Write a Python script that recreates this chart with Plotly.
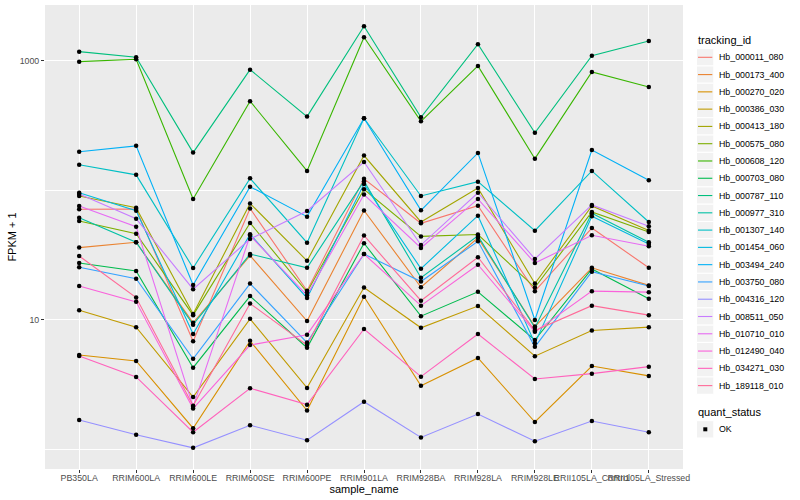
import plotly.graph_objects as go

samples = ["PB350LA", "RRIM600LA", "RRIM600LE", "RRIM600SE", "RRIM600PE", "RRIM901LA",
           "RRIM928BA", "RRIM928LA", "RRIM928LE", "RRII105LA_Control", "RRII105LA_Stressed"]

tracking_ids = ["Hb_000011_080", "Hb_000173_400", "Hb_000270_020", "Hb_000386_030", "Hb_000413_180",
                "Hb_000575_080", "Hb_000608_120", "Hb_000703_080", "Hb_000787_110", "Hb_000977_310",
                "Hb_001307_140", "Hb_001454_060", "Hb_003494_240", "Hb_003750_080", "Hb_004316_120",
                "Hb_008511_050", "Hb_010710_010", "Hb_012490_040", "Hb_034271_030", "Hb_189118_010"]

colors = ["#F8766D", "#EA8331", "#D89000", "#C09B00", "#A3A500", "#7CAE00", "#39B600", "#00BB4E",
          "#00BF7D", "#00C1A3", "#00BFC4", "#00BAE0", "#00B0F6", "#35A2FF", "#9590FF", "#C77CFF",
          "#E76BF3", "#FA62DB", "#FF62BC", "#FF6A98"]

# FPKM + 1 per sample (order of `samples`)
hb_000011_080 = [71.6, 71.9, 6.85, 72.6, 16.8, 123, 55.8, 76.3, 16.7, 51.3, 25.3]
hb_000173_400 = [36.2, 39.8, 9.5, 31.4, 9.8, 70.1, 17.9, 43.0, 8.9, 25.3, 18.5]
hb_000270_020 = [5.37, 4.83, 1.46, 6.9, 2.0, 15.1, 3.11, 5.09, 1.63, 4.41, 3.70]
hb_000386_030 = [11.9, 8.8, 2.54, 10.2, 2.99, 17.8, 8.7, 12.8, 5.25, 8.3, 8.8]
hb_000413_180 = [90.7, 73.6, 11.1, 79.4, 28.6, 186, 57.1, 104.5, 19.1, 75.9, 49.1]
hb_000575_080 = [58.1, 46.4, 10.9, 56.1, 16.4, 102, 44.2, 45.7, 17.8, 68.2, 47.8]
hb_000608_120 = [988, 1031, 86, 489, 141.5, 1524, 342, 915, 176, 822, 630]
hb_000703_080 = [27.5, 23.9, 4.28, 15.3, 6.1, 39.1, 10.7, 16.5, 7.0, 24.8, 14.6]
hb_000787_110 = [1180, 1069, 196, 857, 372, 1854, 367, 1346, 279, 1099, 1427]
hb_000977_310 = [61.7, 39.8, 9.2, 32.3, 25.3, 118, 21.2, 44.6, 8.7, 66.7, 39.8]
hb_001307_140 = [158, 132, 25.2, 124, 39.5, 361, 90.7, 117, 48.9, 141.5, 57.1]
hb_001454_060 = [96, 69.8, 7.8, 45.9, 14.8, 112, 24.9, 63.9, 6.6, 63.2, 38.6]
hb_003494_240 = [199, 221, 18.6, 107, 62.8, 361, 70.3, 195, 10, 205, 120]
hb_003750_080 = [25.5, 20.8, 5.02, 19.1, 6.7, 32.3, 19.8, 40.5, 6.2, 23.6, 18.3]
hb_004316_120 = [1.69, 1.30, 1.03, 1.54, 1.18, 2.34, 1.24, 1.88, 1.16, 1.66, 1.36]
hb_008511_050 = [94, 60.6, 17.3, 42.2, 69.5, 166, 37.9, 96, 29.6, 77.3, 53.0]
hb_010710_010 = [75.9, 52.5, 2.14, 44.9, 15.5, 93, 36.0, 86, 27.5, 45.1, 37.1]
hb_012490_040 = [18.3, 13.8, 2.07, 6.4, 7.7, 32.3, 12.9, 26.7, 8.1, 16.7, 16.4]
hb_034271_030 = [5.27, 3.63, 1.36, 2.97, 2.22, 8.52, 3.65, 7.8, 3.50, 3.85, 4.36]
hb_189118_010 = [31.2, 14.9, 2.18, 13.4, 6.4, 44.9, 14.1, 30.5, 8.3, 12.9, 10.9]

values = [hb_000011_080, hb_000173_400, hb_000270_020, hb_000386_030, hb_000413_180,
          hb_000575_080, hb_000608_120, hb_000703_080, hb_000787_110, hb_000977_310,
          hb_001307_140, hb_001454_060, hb_003494_240, hb_003750_080, hb_004316_120,
          hb_008511_050, hb_010710_010, hb_012490_040, hb_034271_030, hb_189118_010]

quant_status = ["OK"]

FONT = "Liberation Sans, Arial, sans-serif"

# ---- layout geometry (pixels in the 800x500 page) ----
W, H = 800, 500
PL, PR, PT, PB = 45, 683, 5, 469   # panel edges


def px_x(p):
    return (p - PL) / (PR - PL)


def px_y(p):
    return (PB - p) / (PB - PT)


fig = go.Figure()
for name, col, vals in zip(tracking_ids, colors, values):
    fig.add_trace(go.Scatter(
        x=samples, y=vals, mode="lines", name=name,
        line=dict(color=col, width=1.1), showlegend=False,
    ))

all_x, all_y = [], []
for vals in values:
    all_x.extend(samples)
    all_y.extend(vals)
fig.add_trace(go.Scatter(
    x=all_x, y=all_y, mode="markers", name=quant_status[0],
    marker=dict(color="black", size=4.5, symbol="circle"), showlegend=False,
))

# ---- ggplot-style legends (keys + real text) ----
shapes, annotations = [], []
KEY_L, KEY_R = 696.5, 713.8
KEY_H = 17.28
TEXT_X = 716.5


def key_box(cy):
    shapes.append(dict(type="rect", xref="paper", yref="paper",
                       x0=px_x(KEY_L), x1=px_x(KEY_R),
                       y0=px_y(cy + KEY_H / 2), y1=px_y(cy - KEY_H / 2),
                       fillcolor="#F2F2F2", line=dict(color="white", width=1), layer="above"))


annotations.append(dict(text="tracking_id", xref="paper", yref="paper",
                        x=px_x(695.5), y=px_y(40.5), xanchor="left", yanchor="middle",
                        showarrow=False, font=dict(size=11, color="black", family=FONT)))
first_cy = 57.3
for i, (name, col) in enumerate(zip(tracking_ids, colors)):
    cy = first_cy + KEY_H * i
    key_box(cy)
    shapes.append(dict(type="line", xref="paper", yref="paper",
                       x0=px_x(KEY_L + 1.5), x1=px_x(KEY_R - 1.5), y0=px_y(cy), y1=px_y(cy),
                       line=dict(color=col, width=1.1), layer="above"))
    annotations.append(dict(text=name, xref="paper", yref="paper",
                            x=px_x(TEXT_X), y=px_y(cy), xanchor="left", yanchor="middle",
                            showarrow=False, font=dict(size=8.8, color="black", family=FONT)))

annotations.append(dict(text="quant_status", xref="paper", yref="paper",
                        x=px_x(695.5), y=px_y(412), xanchor="left", yanchor="middle",
                        showarrow=False, font=dict(size=11, color="black", family=FONT)))
ok_cy = 429.3
key_box(ok_cy)
shapes.append(dict(type="rect", xref="paper", yref="paper",
                   x0=px_x(703.3), x1=px_x(707.3), y0=px_y(ok_cy + 2), y1=px_y(ok_cy - 2),
                   fillcolor="black", line=dict(width=0), layer="above"))
annotations.append(dict(text=quant_status[0], xref="paper", yref="paper",
                        x=px_x(TEXT_X), y=px_y(ok_cy), xanchor="left", yanchor="middle",
                        showarrow=False, font=dict(size=8.8, color="black", family=FONT)))

fig.update_layout(
    width=W, height=H,
    margin=dict(l=PL, r=W - PR, t=PT, b=H - PB),
    paper_bgcolor="white", plot_bgcolor="#EBEBEB",
    font=dict(family=FONT, size=9, color="black"),
    showlegend=False,
    shapes=shapes, annotations=annotations,
    xaxis=dict(
        type="category", categoryorder="array", categoryarray=samples,
        range=[-0.6, 10.6], tickangle=0, ticklabelstandoff=-3,
        showgrid=True, gridcolor="white", gridwidth=1.1,
        ticks="outside", ticklen=3, tickcolor="#333333", tickwidth=1,
        tickfont=dict(size=8.8, color="#4D4D4D"),
        title=dict(text="sample_name", font=dict(size=11, color="black"), standoff=2),
        zeroline=False, showline=False, automargin=False,
    ),
    yaxis=dict(
        type="log", range=[-0.1506, 3.432],
        tickvals=[10, 1000], ticktext=["10", "1000"],
        showgrid=True, gridcolor="white", gridwidth=1.1,
        ticks="outside", ticklen=3, tickcolor="#333333", tickwidth=1,
        tickfont=dict(size=8.8, color="#4D4D4D"),
        title=dict(text="FPKM + 1", font=dict(size=11, color="black"), standoff=0),
        minor=dict(tickvals=[1, 100], showgrid=True, gridcolor="white", gridwidth=0.5, ticks=""),
        zeroline=False, showline=False, automargin=False,
    ),
)

fig.write_html("out.html", config={"displayModeBar": False},
               post_script="document.body.style.margin='0';document.body.style.padding='0';")
